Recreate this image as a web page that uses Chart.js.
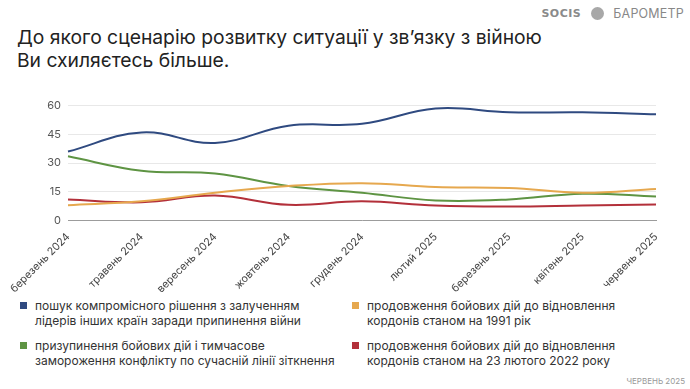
<!DOCTYPE html>
<html><head><meta charset="utf-8">
<script src="https://cdn.jsdelivr.net/npm/chart.js@4.4.1/dist/chart.umd.min.js"></script>
<style>
html,body{margin:0;padding:0;background:#fff;width:690px;height:389px;overflow:hidden;font-family:Inter,"Noto Sans",sans-serif;}
#title{position:absolute;left:17px;top:26px;font-size:19.3px;line-height:23px;color:#222;letter-spacing:0px;}
#logo{position:absolute;right:6px;top:6px;font-size:12px;color:#888;display:flex;align-items:center;}
#logo .s{font-weight:800;letter-spacing:0.5px;color:#8a8a8a;font-family:"DejaVu Sans",sans-serif;font-size:11px;}
#logo .g{width:13px;height:13px;border-radius:50%;background:#a8a8a8;margin:0 9px 0 10px;}
#logo .b{letter-spacing:0.2px;color:#888;font-size:12.5px;}
#wrap{position:absolute;left:0;top:92px;width:690px;height:200px;}
.leg{position:absolute;font-size:12px;line-height:15px;color:#333;}
.leg i{position:absolute;left:-15px;top:4px;width:7px;height:7px;}
#foot{position:absolute;right:5px;top:376px;font-size:8px;color:#999;}
</style></head><body>
<div id="title">До якого сценарію розвитку ситуації у зв’язку з війною<br>Ви схиляєтесь більше.</div>
<div id="logo"><span class="s">SOCIS</span><span class="g"></span><span class="b">БАРОМЕТР</span></div>
<div id="wrap"><canvas id="c"></canvas></div>
<div id="legend"></div>
<div id="foot">ЧЕРВЕНЬ 2025</div>
<script>
const categories = ["березень 2024","травень 2024","вересень 2024","жовтень 2024","грудень 2024","лютий 2025","березень 2025","квітень 2025","червень 2025"];
const seriesNames = [
  "пошук компромісного рішення з залученням\nлідерів інших країн заради припинення війни",
  "продовження бойових дій до відновлення\nкордонів станом на 1991 рік",
  "призупинення бойових дій і тимчасове\nзамороження конфлікту по сучасній лінії зіткнення",
  "продовження бойових дій до відновлення\nкордонів станом на 23 лютого 2022 року"
];
const compromise = [36, 46, 40.5, 49.5, 50.5, 58.5, 56.5, 56.5, 55.5];
const borders1991 = [8, 10, 14.5, 18, 19.5, 17.5, 17, 14.5, 16.5];
const freeze = [33.5, 26, 24.5, 18, 14.5, 10.5, 11, 14, 12.5];
const borders2022 = [11, 9.5, 13, 8.2, 10, 7.8, 7.3, 7.8, 8.3];
const yTicks = [0, 15, 30, 45, 60];
const colors = ["#2f4a80","#e6a84e","#5e9443","#b3303a"];
const values = [compromise, borders1991, freeze, borders2022];

const legPos = [[35,298],[367,298],[35,338],[367,338]];
const legEl = document.getElementById('legend');
seriesNames.forEach((n,i)=>{
  const d = document.createElement('div');
  d.className='leg';
  d.style.left = legPos[i][0]+'px'; d.style.top = legPos[i][1]+'px';
  d.innerHTML = '<i style="background:'+colors[i]+'"></i>' + n.replace('\n','<br>');
  legEl.appendChild(d);
});

new Chart(document.getElementById('c'), {
  type: 'line',
  data: {
    labels: categories,
    datasets: values.map((v,i)=>({
      label: seriesNames[i], data: v, borderColor: colors[i], backgroundColor: colors[i],
      borderWidth: 2, pointRadius: 0, tension: 0.4, fill: false
    }))
  },
  options: {
    responsive: true, maintainAspectRatio: false, animation: false,
    layout: { padding: { left: 0, right: 34, top: 11, bottom: 0 } },
    plugins: { legend: { display: false }, tooltip: { enabled: false } },
    scales: {
      x: {
        grid: { display: false },
        border: { display: true, color: '#9c9c9c', width: 1 },
        ticks: { minRotation: 45, maxRotation: 45, autoSkip: false, padding: 2,
                 color: '#444', font: { family: 'Inter, sans-serif', size: 10.7 } },
        afterFit: s => { s.height = 71.5; }
      },
      y: {
        min: 0, max: 60,
        afterBuildTicks: s => { s.ticks = yTicks.map(v=>({value:v})); },
        grid: { color: '#e8e8e8', drawTicks: false },
        border: { display: false },
        ticks: { padding: 7, color: '#555', font: { family: 'Inter, sans-serif', size: 11 } },
        afterFit: s => { s.width = 68; }
      }
    }
  }
});
</script>
</body></html>
